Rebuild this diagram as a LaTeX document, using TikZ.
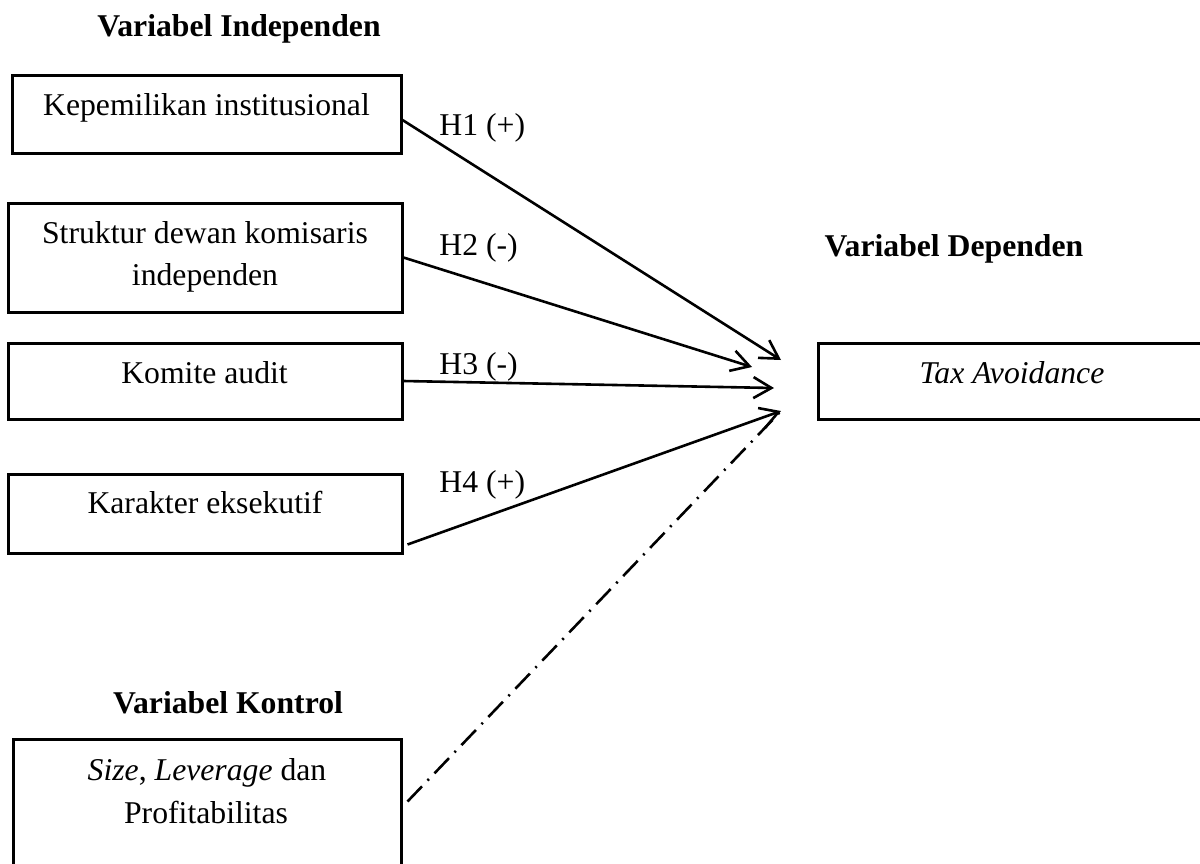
\documentclass[tikz,border=0pt]{standalone}
\usepackage{fontspec}
\setmainfont{Liberation Serif}
\usetikzlibrary{arrows.meta,fit}
\begin{document}
\begin{tikzpicture}[x=0.5pt,y=-0.5pt,
  box/.style={draw, line width=1.5pt, inner sep=0pt, rectangle},
  txt/.style={font=\fontsize{15.85}{19}\selectfont, anchor=base, inner sep=0pt},
  ttl/.style={font=\fontsize{15.85}{19}\selectfont\bfseries, anchor=base, inner sep=0pt},
  hyp/.style={font=\fontsize{15.85}{19}\selectfont, anchor=base west, inner sep=0pt},
  arr/.style={line width=1.3pt, -{Straight Barb[length=9pt,width=10.5pt,line width=1.3pt]}},
  dashdot/.style={line width=1.3pt, dash pattern=on 10.5pt off 4pt on 1pt off 4pt}]
\useasboundingbox (0,0) rectangle (1200,863);

% titles
\node[ttl] (tind) at (239,36) {Variabel Independen};
\node[ttl] (tdep) at (954,256) {Variabel Dependen};
\node[ttl] (tkon) at (228,713) {Variabel Kontrol};

% boxes
\node[box, fit={(12,75) (401,153)}] (b1) {};
\node[box, fit={(8,203) (402,312)}] (b2) {};
\node[box, fit={(8,343) (402,419)}] (b3) {};
\node[box, fit={(8,474) (402,553)}] (b4) {};
\node[box, fit={(13,739) (401,910)}] (b5) {};
\node[box, fit={(818,343) (1208,419)}] (dep) {};

% box texts
\node[txt] (x1) at (206.5,115) {Kepemilikan institusional};
\node[txt] (x2a) at (205,243) {Struktur dewan komisaris};
\node[txt] (x2b) at (205,285) {independen};
\node[txt] (x3) at (204.5,383) {Komite audit};
\node[txt] (x4) at (205,513) {Karakter eksekutif};
\node[txt] (x5a) at (207,780) {\textit{Size}, \textit{Leverage} dan};
\node[txt] (x5b) at (206,823) {Profitabilitas};
\node[txt] (xd) at (1012,383) {\textit{Tax Avoidance}};

% arrow end points
\coordinate (e1) at (781,360);
\coordinate (e2) at (752,367);
\coordinate (e3) at (774,388);
\coordinate (e4) at (781,411);

% connectors
\draw[arr] ([yshift=-3pt]b1.east) -- (e1);
\draw[arr] (b2.east) -- (e2);
\draw[arr] (b3.east) -- (e3);
\draw[arr] ([xshift=2pt,yshift=5pt]b4.south east) -- (e4);
\draw[dashdot] ([xshift=2.5pt,yshift=-32pt]b5.north east) -- (e4);

% hypothesis labels
\node[hyp] (h1) at (439,135) {H1 (+)};
\node[hyp] (h2) at (439,255) {H2 (-)};
\node[hyp] (h3) at (439,374) {H3 (-)};
\node[hyp] (h4) at (439,492) {H4 (+)};
\end{tikzpicture}
\end{document}
